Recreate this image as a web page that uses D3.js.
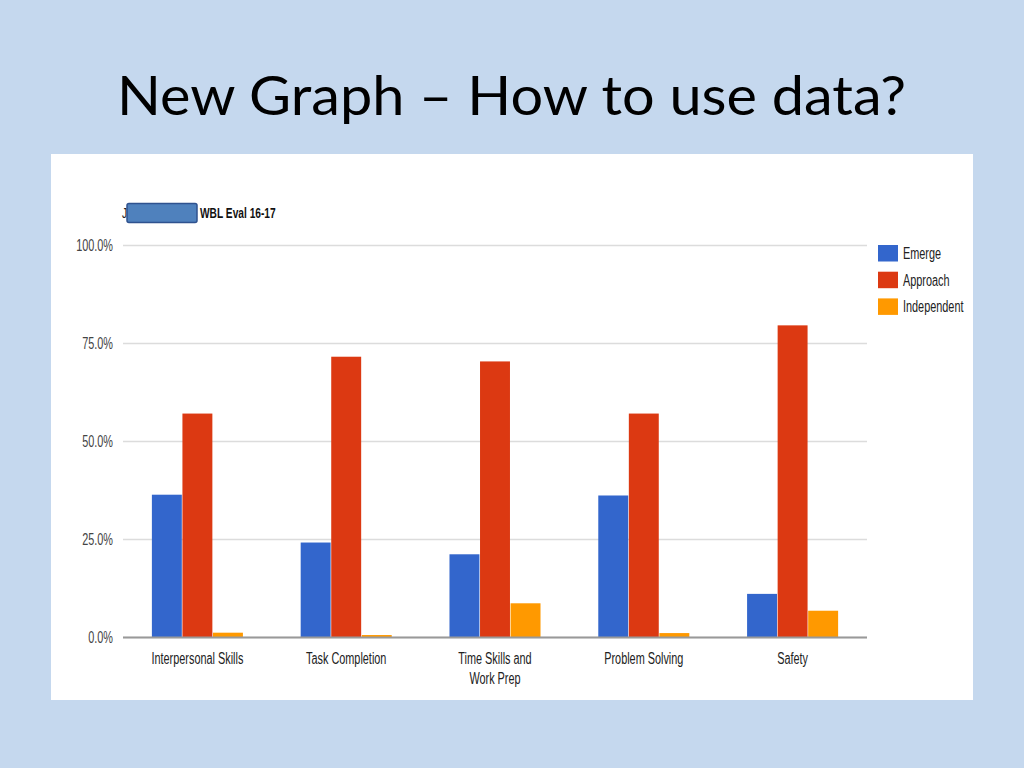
<html>

<head>
	<meta charset="UTF-8">
	<title>New Graph - How to use data?</title>
	<script src="https://cdn.jsdelivr.net/npm/d3@7"></script>
	<style>
		body {
			padding: 0;
			margin: 0;
			background: #c5d8ee;
		}
	</style>
</head>

<body>
	<script>
		var w = 1024,
			h = 768;

		// data
		var categories = ["Interpersonal Skills", "Task Completion", "Time Skills and|Work Prep", "Problem Solving", "Safety"];
		var seriesNames = ["Emerge", "Approach", "Independent"];
		var emerge = [0.363, 0.241, 0.211, 0.361, 0.110];
		var approach = [0.570, 0.715, 0.703, 0.570, 0.795];
		var independent = [0.011, 0.005, 0.086, 0.010, 0.067];
		var yTicks = [0, 0.25, 0.5, 0.75, 1];
		var colors = ["#3366cc", "#dc3912", "#ff9900"];

		var series = [emerge, approach, independent];

		// the chart picture on the slide is squeezed sideways
		var sx = 0.68;
		var font = "'Liberation Sans', Arial, sans-serif";

		var svg = d3.select("body").append("svg")
			.attr("width", w)
			.attr("height", h)
			.style("display", "block");

		svg.append("rect")
			.attr("width", w).attr("height", h)
			.attr("fill", "#c5d8ee");

		// slide title
		svg.append("text")
			.attr("x", 117).attr("y", 115)
			.attr("textLength", 789)
			.attr("lengthAdjust", "spacingAndGlyphs")
			.style("font-family", "Lato, 'Open Sans', sans-serif")
			.style("font-size", "54px")
			.attr("fill", "#000")
			.text("New Graph \u2013 How to use data?");

		// white chart panel
		svg.append("rect")
			.attr("x", 51).attr("y", 154)
			.attr("width", 922).attr("height", 546)
			.attr("fill", "#ffffff");

		var plotL = 123, plotR = 867, plotT = 245, plotB = 637;

		var y = d3.scaleLinear().domain([0, 1]).range([plotB, plotT]);
		var x0 = d3.scaleBand().domain(categories).range([plotL, plotR])
			.paddingInner(0.38).paddingOuter(0.19);
		var x1 = d3.scaleBand().domain(seriesNames).range([0, x0.bandwidth()]).padding(0.02);

		// squeezed text helper
		function squeezed(parent, x, yy, str, size, anchor, fill, weight) {
			return parent.append("text")
				.attr("transform", "translate(" + x + "," + yy + ") scale(" + sx + ",1)")
				.attr("text-anchor", anchor || "start")
				.style("font-family", font).style("font-size", size + "px")
				.style("font-weight", weight || "normal")
				.attr("fill", fill || "#222")
				.text(str);
		}

		// gridlines + y labels
		var yAxis = d3.axisLeft(y).tickValues(yTicks)
			.tickSize(-(plotR - plotL))
			.tickFormat(d3.format(".1%"))
			.tickPadding(0);
		var gy = svg.append("g").attr("transform", "translate(" + plotL + ",0)").call(yAxis);
		gy.select(".domain").remove();
		gy.selectAll(".tick line").attr("stroke", "#dcdcdc").attr("stroke-width", 1.5);
		gy.selectAll(".tick text")
			.attr("transform", "scale(" + sx + ",1)")
			.attr("x", -10 / sx)
			.attr("dy", "0.35em")
			.style("font-family", font).style("font-size", "16px")
			.attr("fill", "#444");

		// bars
		categories.forEach(function (c, ci) {
			svg.append("g")
				.attr("transform", "translate(" + x0(c) + ",0)")
				.selectAll("rect")
				.data(seriesNames)
				.enter().append("rect")
				.attr("x", function (s) { return x1(s); })
				.attr("width", x1.bandwidth())
				.attr("y", function (s, si) { return y(series[si][ci]); })
				.attr("height", function (s, si) { return plotB - y(series[si][ci]); })
				.attr("fill", function (s, si) { return colors[si]; });
		});

		// baseline
		svg.append("line")
			.attr("x1", plotL).attr("x2", plotR)
			.attr("y1", plotB + 0.5).attr("y2", plotB + 0.5)
			.attr("stroke", "#999").attr("stroke-width", 2);

		// x labels
		categories.forEach(function (c) {
			c.split("|").forEach(function (line, i) {
				squeezed(svg, x0(c) + x0.bandwidth() / 2, 664 + i * 20, line, 16, "middle", "#222");
			});
		});

		// legend
		var legend = svg.append("g").attr("transform", "translate(878,245)");
		seriesNames.forEach(function (s, i) {
			legend.append("rect")
				.attr("x", 0).attr("y", i * 26.7)
				.attr("width", 20).attr("height", 16.5)
				.attr("fill", colors[i]);
			squeezed(legend, 25, i * 26.7 + 14, s, 16, "start", "#222");
		});

		// chart title partly covered by a box
		squeezed(svg, 122, 218, "J", 15, "start", "#222");
		svg.append("rect")
			.attr("x", 127).attr("y", 203.5)
			.attr("width", 70).attr("height", 19)
			.attr("rx", 2)
			.attr("fill", "#4f81bd")
			.attr("stroke", "#2f528f").attr("stroke-width", 1.5);
		squeezed(svg, 200, 218, "WBL Eval 16-17", 15, "start", "#111", "bold");
	</script>

</body>

</html>
